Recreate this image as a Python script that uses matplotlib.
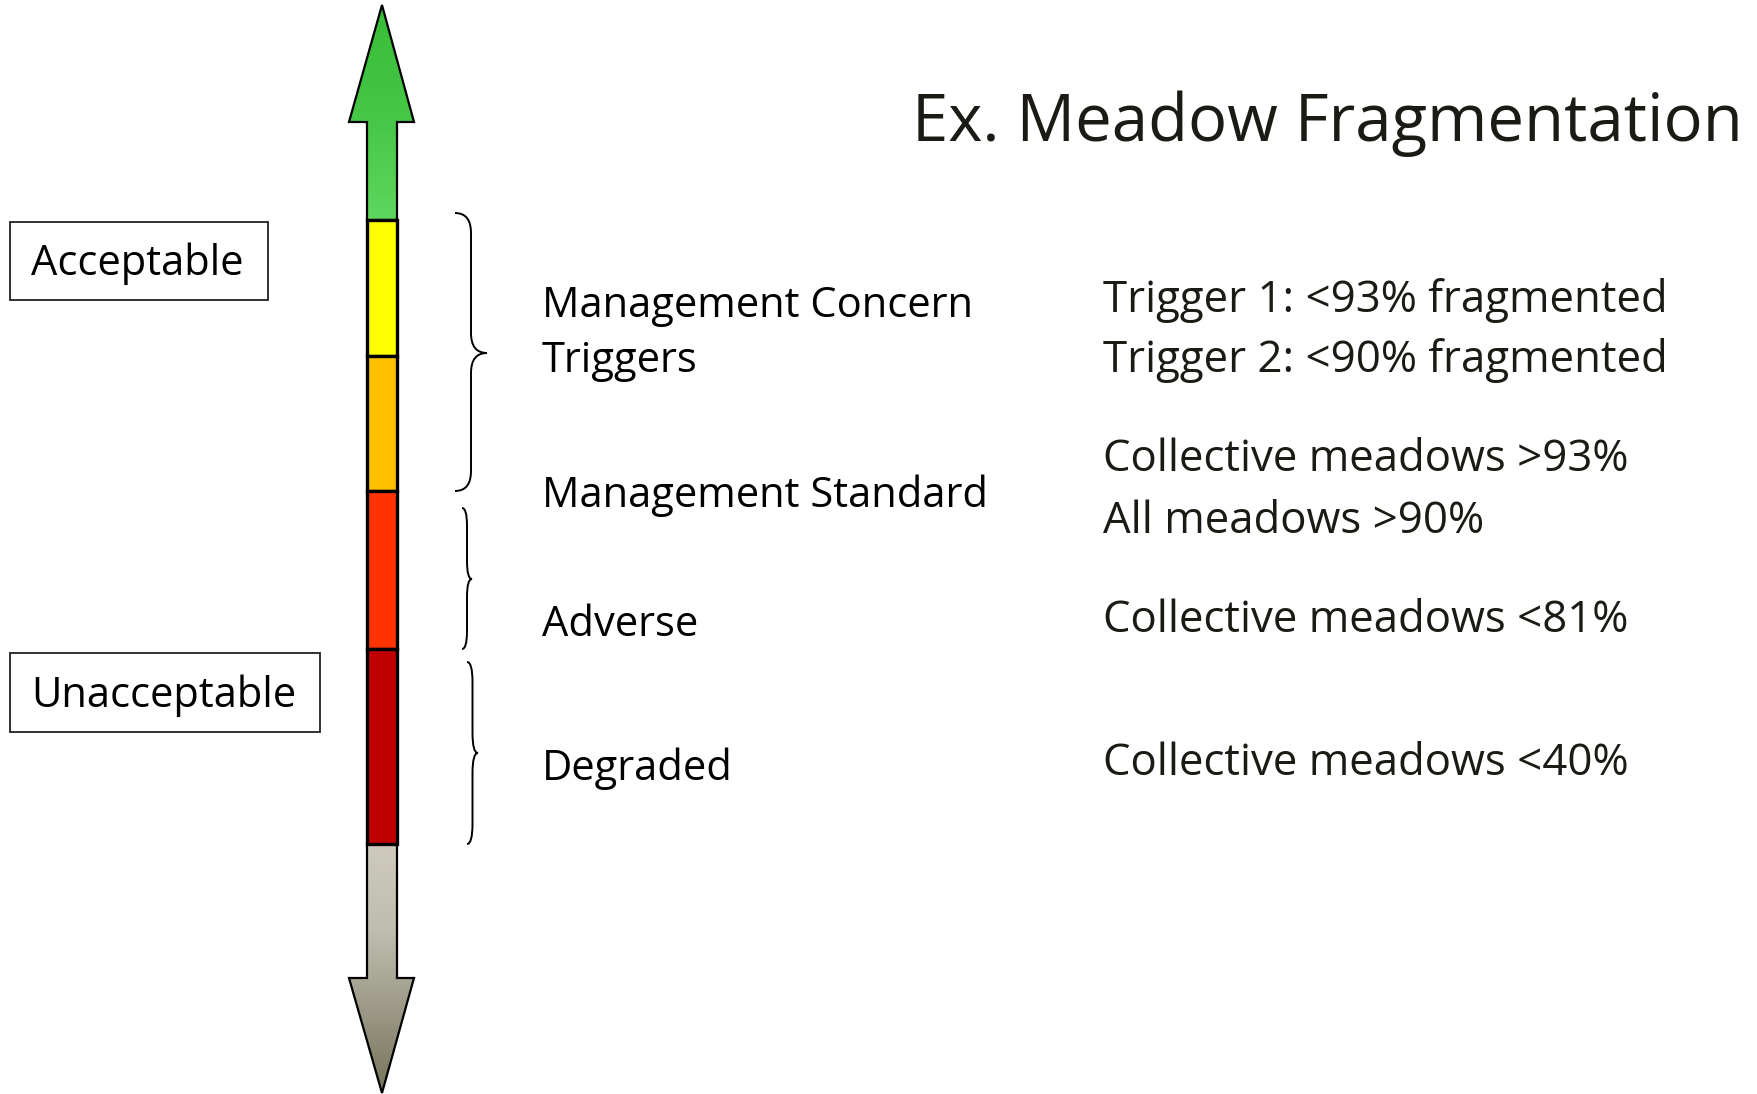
import numpy as np
import matplotlib.pyplot as plt
from matplotlib.patches import Polygon, Rectangle, PathPatch
from matplotlib.path import Path
from matplotlib.colors import LinearSegmentedColormap

# canvas in pixels (schematic drawn in pixel units)
W, H = 1758, 1094

title = "Ex. Meadow Fragmentation"

# condition bands on the vertical scale (top -> bottom)
band_colors = ["#ffff00", "#ffc000", "#ff3300", "#c00000"]
band_edges = [220, 356, 491, 649, 844]

status_labels = ["Acceptable", "Unacceptable"]
status_boxes = [(10, 222, 268, 300), (10, 653, 320, 732)]   # x0, y0, x1, y1
status_baselines = [275, 707]

level_labels = ["Management Concern", "Triggers", "Management Standard", "Adverse", "Degraded"]
level_baselines = [317, 372, 507, 636, 780]

criteria = ["Trigger 1: <93% fragmented", "Trigger 2: <90% fragmented",
            "Collective meadows >93%", "All meadows >90%",
            "Collective meadows <81%", "Collective meadows <40%"]
criteria_baselines = [312, 372, 471, 533, 632, 775]

# braces: x_left, x_tip, y_top, y_tip, y_bottom
braces = [(455, 487, 213, 353, 491),
          (462, 472, 508, 579, 649),
          (467, 478, 662, 753, 844)]

bar_x0, bar_x1 = 367, 397
head_x0, head_x1 = 349, 414
up_tip, up_base = 5, 122
down_base, down_tip = 978, 1093

fig = plt.figure(figsize=(W / 100, H / 100), dpi=100)
ax = fig.add_axes([0, 0, 1, 1])
ax.set_xlim(0, W)
ax.set_ylim(H, 0)
ax.axis('off')


def gradient_arrow(pts, y0, y1, colors):
    poly = Polygon(pts, closed=True, facecolor='none', edgecolor='black', lw=1.6, zorder=3)
    ax.add_patch(poly)
    cmap = LinearSegmentedColormap.from_list('g', colors)
    grad = np.linspace(0, 1, 256).reshape(-1, 1)
    im = ax.imshow(grad, cmap=cmap, extent=(head_x0, head_x1, y1, y0),
                   origin='upper', aspect='auto', zorder=2, interpolation='bilinear')
    im.set_clip_path(poly)


xm = (bar_x0 + bar_x1) / 2
up_pts = [(bar_x0, band_edges[0]), (bar_x0, up_base), (head_x0, up_base), (xm, up_tip),
          (head_x1, up_base), (bar_x1, up_base), (bar_x1, band_edges[0])]
gradient_arrow(up_pts, up_tip, band_edges[0], ["#38bd38", "#45c645", "#5ed75e"])

down_pts = [(bar_x0, band_edges[-1]), (bar_x0, down_base), (head_x0, down_base), (xm, down_tip),
            (head_x1, down_base), (bar_x1, down_base), (bar_x1, band_edges[-1])]
gradient_arrow(down_pts, band_edges[-1], down_tip,
               [(0, "#cecbbd"), (0.35, "#bfbdae"), (1, "#76745b")])

for c, top, bot in zip(band_colors, band_edges[:-1], band_edges[1:]):
    ax.add_patch(Rectangle((bar_x0, top), bar_x1 - bar_x0, bot - top,
                           facecolor=c, edgecolor='black', lw=2.4, zorder=4))

for (xl, xt, yt, yc, yb) in braces:
    xv = (xl + xt) / 2
    r = min(20, (yc - yt) / 4)
    verts = [(xl, yt), (xv, yt), (xv, yt + r), (xv, yc - r), (xv, yc), (xt, yc),
             (xv, yc), (xv, yc + r), (xv, yb - r), (xv, yb), (xl, yb)]
    codes = [Path.MOVETO, Path.CURVE3, Path.CURVE3, Path.LINETO, Path.CURVE3, Path.CURVE3,
             Path.CURVE3, Path.CURVE3, Path.LINETO, Path.CURVE3, Path.CURVE3]
    ax.add_patch(PathPatch(Path(verts, codes), facecolor='none', edgecolor='black', lw=1.4))

for lab, (x0, y0, x1, y1), yb in zip(status_labels, status_boxes, status_baselines):
    ax.add_patch(Rectangle((x0, y0), x1 - x0, y1 - y0, facecolor='white',
                           edgecolor='#222222', lw=1.3))
    ax.text(31, yb, lab, fontsize=30, family='Open Sans', va='baseline', ha='left',
            color='black')

for lab, yb in zip(level_labels, level_baselines):
    ax.text(542, yb, lab, fontsize=30, family='Open Sans', va='baseline', ha='left',
            color='black')

for lab, yb in zip(criteria, criteria_baselines):
    ax.text(1103, yb, lab, fontsize=31.5, family='Open Sans', va='baseline', ha='left',
            color='#1c1a14')

ax.text(912, 141, title, fontsize=47, family='Open Sans', va='baseline', ha='left',
        color='#1c1a14')

fig.savefig('out.png', dpi=100)
